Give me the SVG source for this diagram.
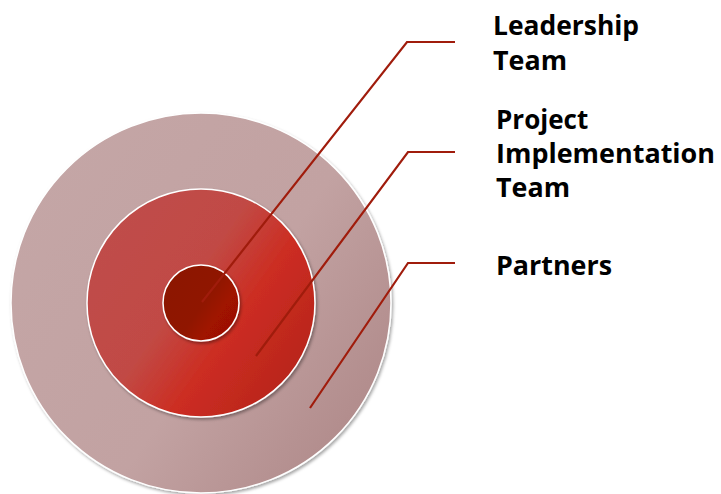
<svg xmlns="http://www.w3.org/2000/svg" width="721" height="494" viewBox="0 0 721 494">
<style>
.ring{stroke:#ffffff;stroke-width:1.5;filter:url(#sh)}
.conn{fill:none;stroke:#a01c0c;stroke-width:2.2;stroke-linejoin:miter}
.lbl{font-family:"Open Sans","Liberation Sans",sans-serif;font-weight:bold;font-size:26px;fill:#000}
</style>
<defs>
<filter id="sh" x="-10%" y="-10%" width="120%" height="120%">
<feDropShadow dx="1.5" dy="2" stdDeviation="1.5" flood-color="#000" flood-opacity="0.35"/>
</filter>
<linearGradient id="gOuter" x1="0" y1="0.2" x2="1" y2="0.9">
<stop offset="0" stop-color="#c4a6a6"/>
<stop offset="0.55" stop-color="#c2a2a2"/>
<stop offset="1" stop-color="#ad8686"/>
</linearGradient>
<linearGradient id="gMid" x1="0" y1="0.2" x2="1" y2="0.9">
<stop offset="0" stop-color="#bf4d4a"/>
<stop offset="0.4" stop-color="#c14a45"/>
<stop offset="0.62" stop-color="#cc2d22"/>
<stop offset="1" stop-color="#b2231a"/>
</linearGradient>
<linearGradient id="gIn" x1="0" y1="0.2" x2="1" y2="0.9">
<stop offset="0" stop-color="#8c1700"/>
<stop offset="0.5" stop-color="#901500"/>
<stop offset="0.7" stop-color="#a01200"/>
<stop offset="1" stop-color="#9a1000"/>
</linearGradient>
</defs>
<g id="partners-ring"><circle class="ring" cx="201" cy="303" r="190" fill="url(#gOuter)"/></g>
<g id="project-ring"><circle class="ring" cx="201" cy="303" r="114" fill="url(#gMid)"/></g>
<g id="leadership-ring"><circle class="ring" cx="201" cy="303" r="38" fill="url(#gIn)"/></g>
<g id="connectors">
<polyline class="conn" points="202,302 407,42 455,42"/>
<polyline class="conn" points="256,356 408,152 455,152"/>
<polyline class="conn" points="310,408 408,263 455,263"/>
</g>
<g id="label-leadership">
<text class="lbl" x="493" y="35" textLength="146" lengthAdjust="spacingAndGlyphs">Leadership</text>
<text class="lbl" x="493" y="70" textLength="74" lengthAdjust="spacingAndGlyphs">Team</text>
</g>
<g id="label-project">
<text class="lbl" x="496" y="129">Project</text>
<text class="lbl" x="496" y="163" textLength="219" lengthAdjust="spacingAndGlyphs">Implementation</text>
<text class="lbl" x="496" y="197" textLength="74" lengthAdjust="spacingAndGlyphs">Team</text>
</g>
<g id="label-partners">
<text class="lbl" x="496" y="275" textLength="116" lengthAdjust="spacingAndGlyphs">Partners</text>
</g>
</svg>
